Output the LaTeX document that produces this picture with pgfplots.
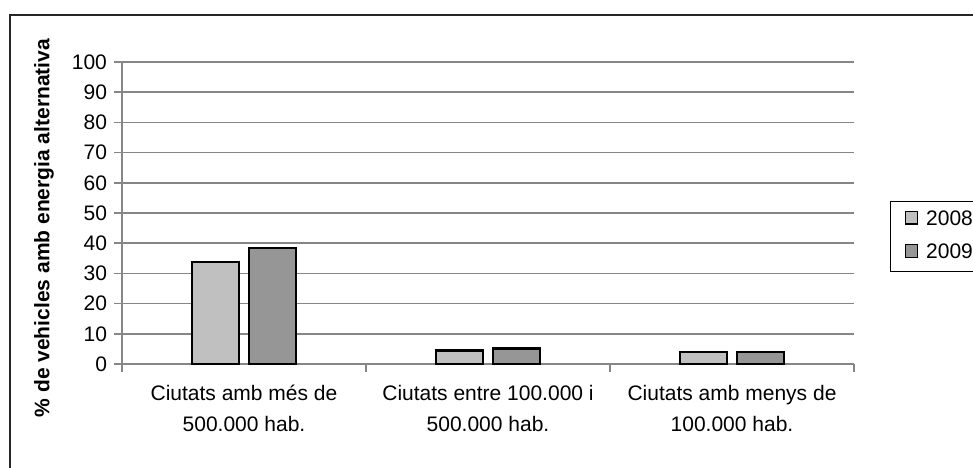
\documentclass[border=0pt]{standalone}
\usepackage{fontspec}
\setmainfont{Liberation Sans}
\usepackage{pgfplots}
\pgfplotsset{compat=1.18}
\definecolor{cA}{HTML}{C0C0C0}
\definecolor{cB}{HTML}{969696}
\definecolor{gridc}{HTML}{868686}
\begin{document}
\begin{tikzpicture}
\useasboundingbox (0,0) rectangle (486.5pt,-233.5pt);
\clip (0,0) rectangle (486.5pt,-233.5pt);
\draw[line width=0.8pt, black!85] (5pt,-7.5pt) rectangle (495pt,-240pt);
\begin{axis}[
  at={(61pt,-182pt)}, anchor=south west,
  scale only axis, width=366pt, height=151pt,
  xmin=-0.5, xmax=2.5, ymin=0, ymax=100,
  ybar=4.75pt, bar width=23.5pt,
  axis x line*=bottom, axis y line*=left,
  axis line style={-, draw=gridc, line width=0.75pt},
  ytick={0,10,...,100},
  ymajorgrids, grid style={draw=gridc, line width=0.75pt},
  xtick={0,1,2},
  xticklabels={{Ciutats amb més de\\500.000 hab.},{Ciutats entre 100.000 i\\500.000 hab.},{Ciutats amb menys de\\100.000 hab.}},
  minor xtick={-0.5,0.5,1.5,2.5},
  major x tick style={draw=none},
  minor x tick style={draw=gridc, line width=0.75pt},
  ytick style={draw=gridc, line width=0.75pt},
  tick align=outside,
  major tick length=4pt, minor tick length=4pt,
  /pgf/number format/assume math mode=true,
  tick label style={font=\fontsize{10.5}{15.5}\selectfont},
  xticklabel style={align=center, yshift=-3pt},
  ylabel={\% de vehicles amb energia alternativa},
  ylabel style={at={(axis description cs:-0.1066,0.45)}, anchor=center, font=\bfseries\fontsize{10.5}{12}\selectfont},
  legend style={at={(axis description cs:1.0492,0.5397)}, anchor=north west,
    draw=black, line width=0.6pt, font=\fontsize{10.5}{12}\selectfont,
    inner xsep=7pt, inner ysep=4.3pt, row sep=6.95pt, column sep=4pt,
    nodes={inner sep=0pt, text height=7.5pt, text depth=2.2pt}},
  legend cell align=left,
  legend image code/.code={\draw[#1, draw=black, line width=0.6pt] (0pt,-2pt) rectangle (6.2pt,4.2pt);},
]
\addplot[fill=cA, draw=black, line width=1.2pt] coordinates {(0,33.8) (1,4.5) (2,3.9)};
\addplot[fill=cB, draw=black, line width=1.2pt] coordinates {(0,38.5) (1,5.2) (2,3.9)};
\legend{2008,2009}
\end{axis}
\end{tikzpicture}
\end{document}
